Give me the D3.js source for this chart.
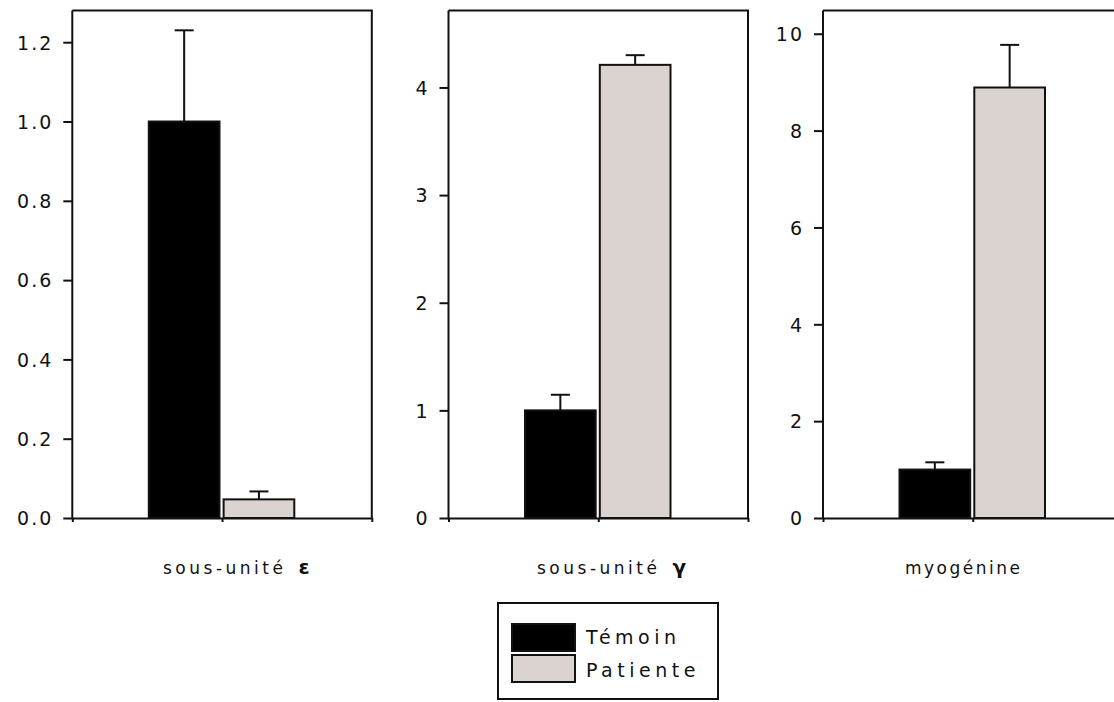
<!DOCTYPE html>
<html>
<head>
<meta charset="utf-8">
<script src="https://cdn.jsdelivr.net/npm/d3@7"></script>
<style>
  html, body { margin: 0; padding: 0; background: #ffffff; }
  svg { display: block; }
  text { font-family: "DejaVu Sans", sans-serif; fill: #111; }
</style>
</head>
<body>
<svg id="chart" width="1114" height="702"></svg>
<script>
// ---- data ----
const categories = ["sous-unité", "sous-unité", "myogénine"];
const categorySymbols = ["ε", "γ", ""];
const series = ["Témoin", "Patiente"];
const temoinValues = [1.0, 1.0, 1.0];
const temoinErrors = [0.23, 0.145, 0.15];
const patienteValues = [0.047, 4.21, 8.89];
const patienteErrors = [0.02, 0.09, 0.88];
const yTicks1 = [0, 0.2, 0.4, 0.6, 0.8, 1.0, 1.2];
const yTicks2 = [0, 1, 2, 3, 4];
const yTicks3 = [0, 2, 4, 6, 8, 10];
const yMaxes = [1.28, 4.715, 10.48];

// ---- layout ----
const panelLefts = [72.3, 448.5, 823];
const panelW = 299.5;
const plotTop = 10.5, plotBottom = 518;
const labelX = [163, 537, 905];
const labelSpacing = ["3.5px", "3.5px", "2.5px"];
const colors = { "Témoin": "#000000", "Patiente": "#dbd3d0" };

const svg = d3.select("#chart");
const tickSets = [yTicks1, yTicks2, yTicks3];
const formats = [d3.format(".1f"), d3.format("d"), d3.format("d")];

categories.forEach((cat, i) => {
  const g = svg.append("g").attr("transform", `translate(${panelLefts[i]},0)`);
  const y = d3.scaleLinear().domain([0, yMaxes[i]]).range([plotBottom, plotTop]);
  const x = d3.scaleBand().domain(series).range([76.5, 222]).paddingInner(0.055);

  // frame (top & right)
  g.append("path")
    .attr("d", `M0,${plotTop}H${panelW}V${plotBottom}`)
    .attr("fill", "none").attr("stroke", "#111").attr("stroke-width", 2);

  // y axis
  const yAxis = d3.axisLeft(y).tickValues(tickSets[i]).tickFormat(formats[i])
    .tickSize(9).tickPadding(10).tickSizeOuter(0);
  const ya = g.append("g").call(yAxis);
  ya.select(".domain").attr("d", `M0,${plotTop}V${plotBottom}`).attr("stroke", "#111").attr("stroke-width", 2);
  ya.selectAll(".tick line").attr("stroke", "#111").attr("stroke-width", 2);
  ya.selectAll(".tick text").style("font-size", "19px").style("letter-spacing", "2px")
    .attr("fill", "#111").attr("dy", "0.36em");

  // x axis line with ticks at ends and center
  const xa = d3.scaleLinear().domain([0, 1]).range([0, panelW]);
  const xAxis = d3.axisBottom(xa).tickValues([0, 0.5, 1]).tickFormat("").tickSize(4).tickSizeOuter(0);
  const xg = g.append("g").attr("transform", `translate(0,${plotBottom})`).call(xAxis);
  xg.select(".domain").attr("stroke", "#111").attr("stroke-width", 2);
  xg.selectAll(".tick line").attr("stroke", "#111").attr("stroke-width", 2);

  const vals = [temoinValues[i], patienteValues[i]];
  const errs = [temoinErrors[i], patienteErrors[i]];
  series.forEach((s, j) => {
    const bx = x(s), bw = x.bandwidth();
    const cx = bx + bw / 2;
    // error bar
    g.append("line").attr("x1", cx).attr("x2", cx)
      .attr("y1", y(vals[j])).attr("y2", y(vals[j] + errs[j]))
      .attr("stroke", "#111").attr("stroke-width", 2);
    g.append("line").attr("x1", cx - 9.5).attr("x2", cx + 9.5)
      .attr("y1", y(vals[j] + errs[j])).attr("y2", y(vals[j] + errs[j]))
      .attr("stroke", "#111").attr("stroke-width", 2);
    // bar
    g.append("rect").attr("x", bx).attr("y", y(vals[j]))
      .attr("width", bw).attr("height", y(0) - y(vals[j]))
      .attr("fill", colors[s]).attr("stroke", "#111").attr("stroke-width", 2);
  });

  // category label
  const t = svg.append("text").attr("x", labelX[i]).attr("y", 574)
    .style("font-size", "17px").style("letter-spacing", labelSpacing[i]);
  t.append("tspan").text(cat);
  if (categorySymbols[i]) {
    t.append("tspan").attr("dx", 12).style("font-weight", "bold").style("font-size", "20px")
      .text(categorySymbols[i]);
  }
});

// ---- legend ----
const lg = svg.append("g");
lg.append("rect").attr("x", 498).attr("y", 603).attr("width", 220).attr("height", 96)
  .attr("fill", "none").attr("stroke", "#111").attr("stroke-width", 2);
series.forEach((s, j) => {
  lg.append("rect").attr("x", 512).attr("y", 624 + j * 31).attr("width", 63).attr("height", 27)
    .attr("fill", colors[s]).attr("stroke", "#111").attr("stroke-width", 2);
  lg.append("text").attr("x", 586).attr("y", 644 + j * 33)
    .style("font-size", "19px").style("letter-spacing", "4.5px").text(s);
});
</script>
</body>
</html>
